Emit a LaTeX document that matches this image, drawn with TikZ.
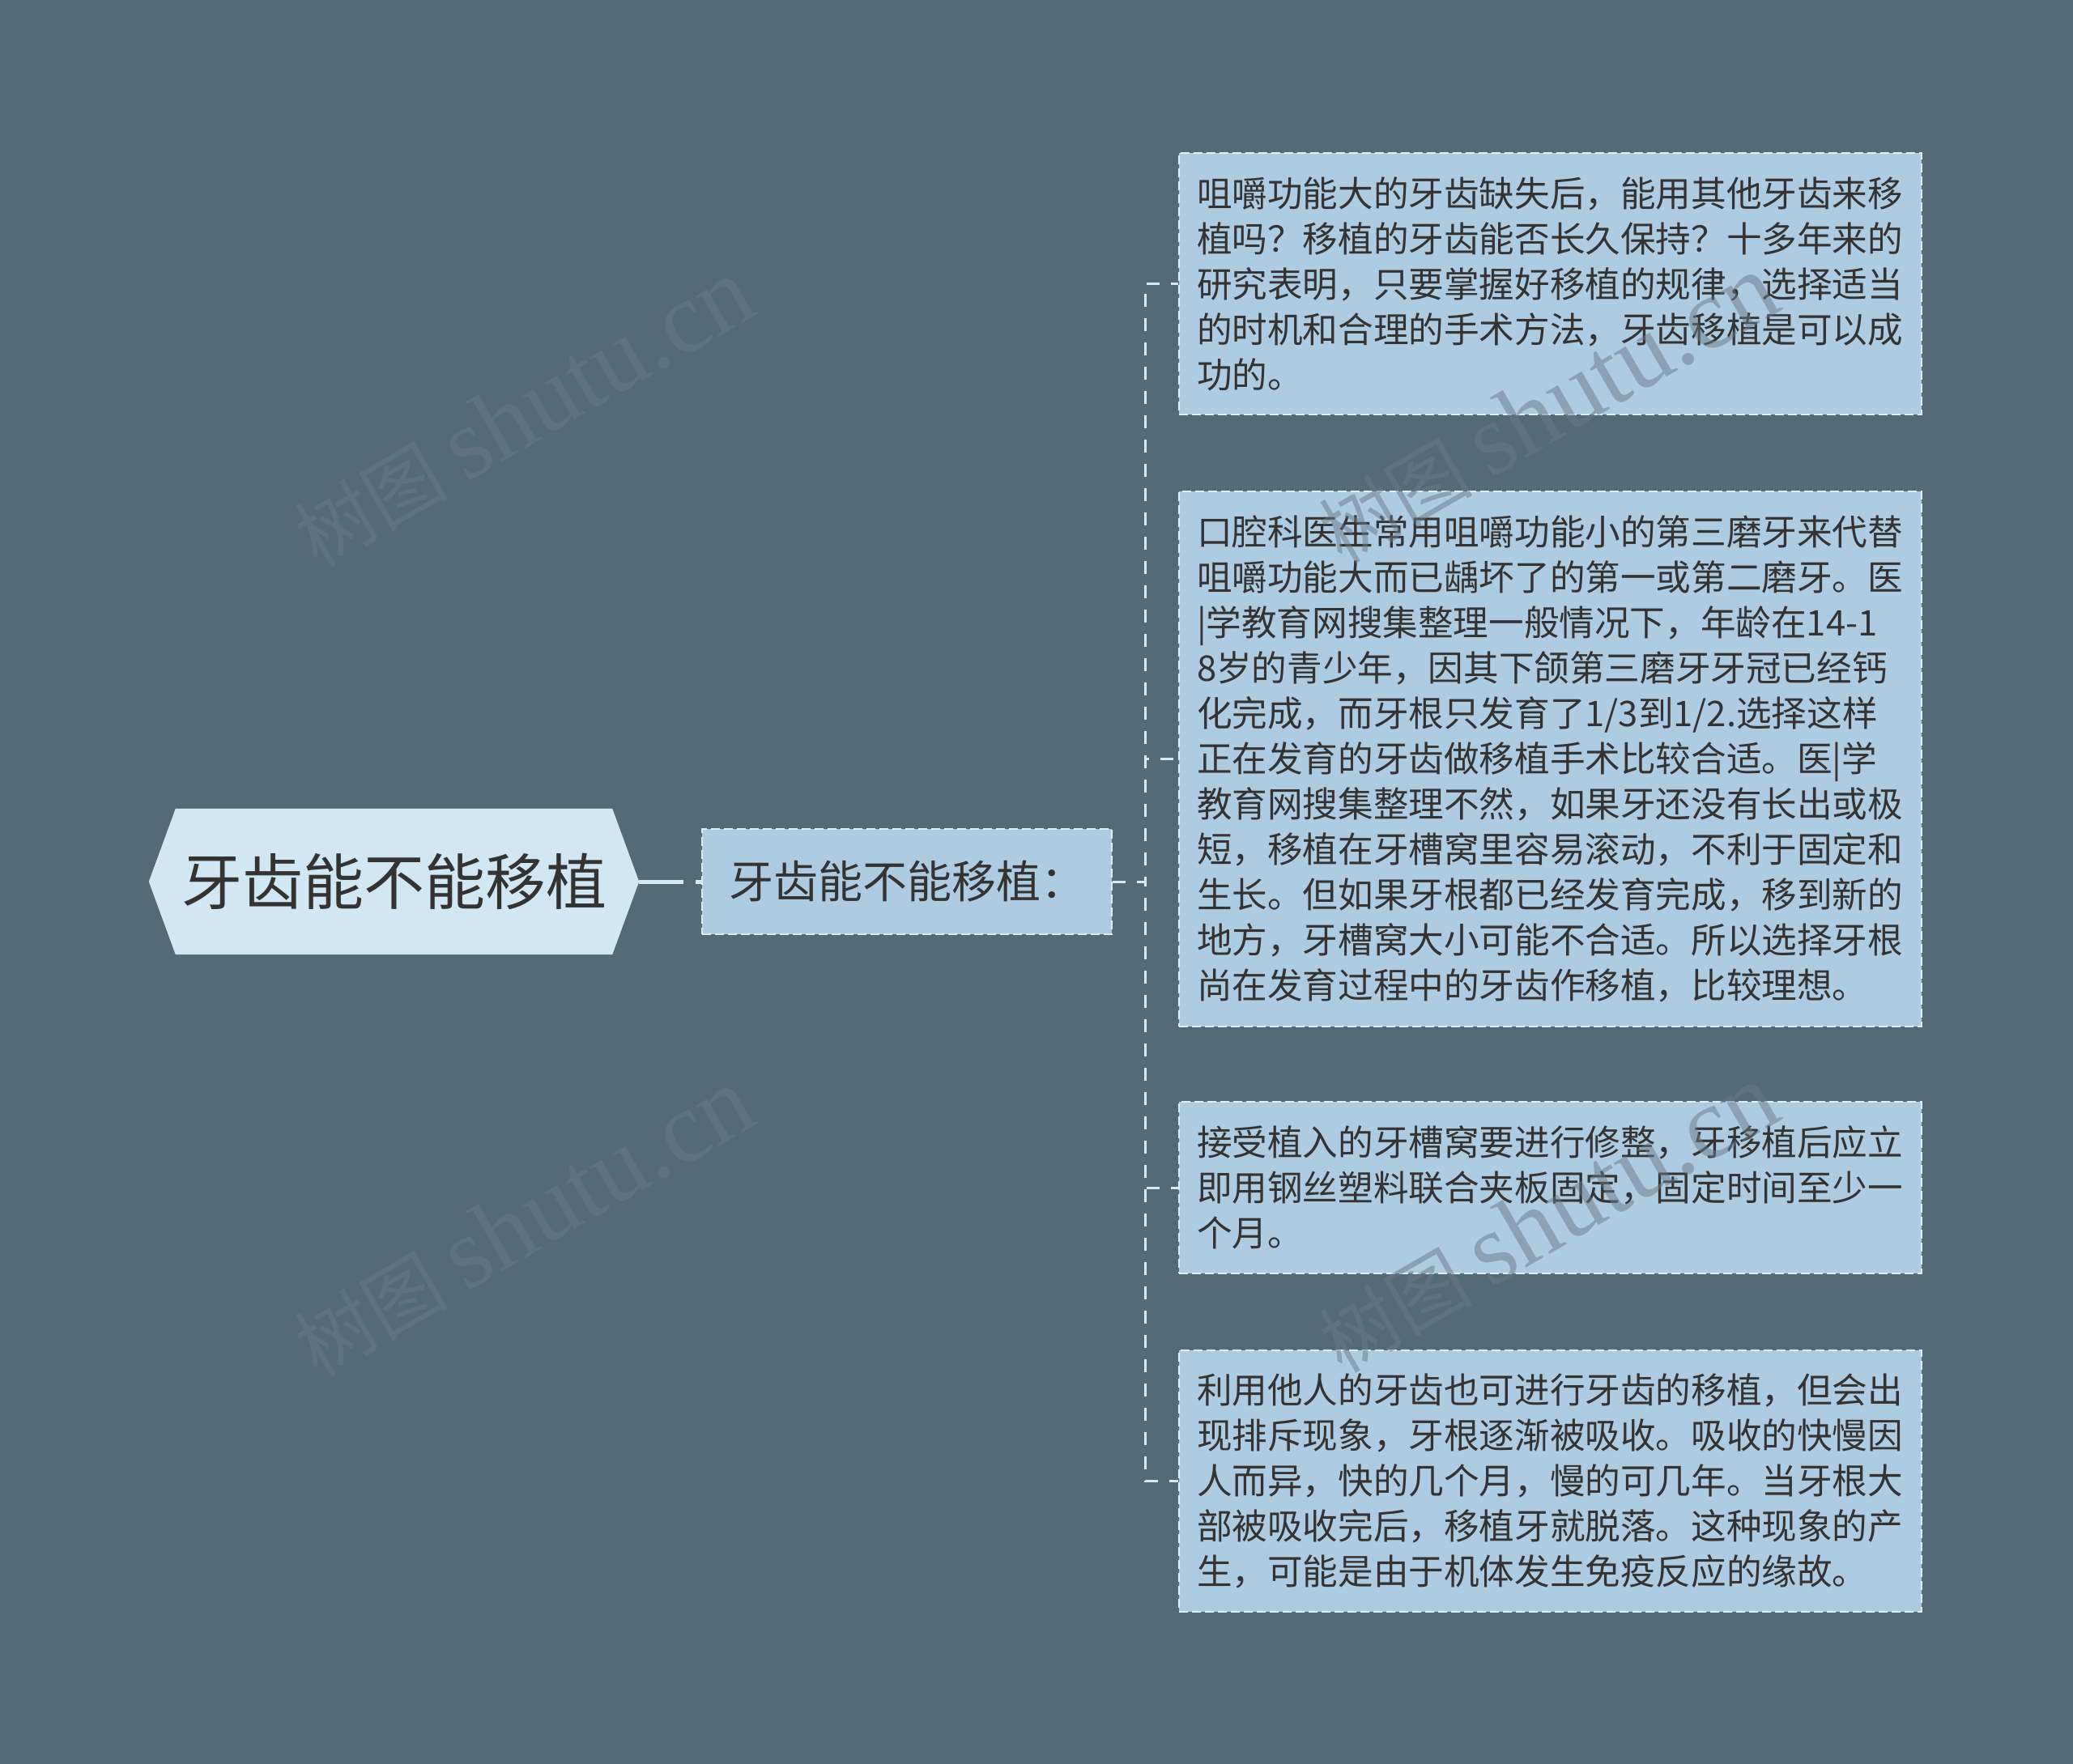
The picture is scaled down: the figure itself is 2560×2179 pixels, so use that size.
\documentclass[tikz,border=0pt]{standalone}
\usepackage{fontspec}
\setmainfont{Noto Sans CJK SC}
\newfontfamily\wmserif{Liberation Serif}
\usetikzlibrary{backgrounds}
\pgfdeclarelayer{canvas}
\pgfsetlayers{canvas,background,main}
\definecolor{bgc}{HTML}{536A79}
\definecolor{boxc}{HTML}{ADCBE1}
\definecolor{rootc}{HTML}{D1E8F4}
\definecolor{txtc}{HTML}{333333}
\definecolor{dashc}{HTML}{DDEEF8}
\definecolor{linec}{HTML}{D6EAF5}
\definecolor{wmc}{HTML}{6B7B89}
\tikzset{
  roottext/.style={minimum width=605pt, minimum height=180pt, inner sep=0pt,
    text=txtc, font=\fontsize{75}{90}\selectfont},
  subbox/.style={draw=dashc, line width=2pt, dash pattern=on 11pt off 5pt,
    fill=boxc, minimum width=506pt, minimum height=130pt, inner sep=0pt,
    text=txtc, font=\fontsize{55}{66}\selectfont},
  leafbox/.style={draw=dashc, line width=2pt, dash pattern=on 11pt off 5pt,
    fill=boxc, anchor=north west, text width=873pt, inner xsep=22pt, inner ysep=0pt,
    align=left, text=txtc, font=\fontsize{43.6}{56}\selectfont},
  rootline/.style={draw=linec, line width=5pt, dash pattern=on 55pt off 15pt},
  branchline/.style={draw=linec, line width=3pt, dash pattern=on 16pt off 14pt},
  wmark/.style={text=wmc, opacity=0.5, rotate=30, inner sep=0pt,
    font=\fontsize{95}{95}\selectfont}
}
\begin{document}
\begin{tikzpicture}[x=1pt,y=-1pt]
\useasboundingbox (0,0) rectangle (2560,2179);
\begin{pgfonlayer}{canvas}
\fill[bgc] (0,0) rectangle (2560,2179);
\end{pgfonlayer}

% root
\node[roottext] (root) at (486.5,1089) {牙齿能不能移植};
\begin{pgfonlayer}{background}
\fill[rootc] (root.west) -- ([xshift=33pt]root.north west) -- ([xshift=-33pt]root.north east)
  -- (root.east) -- ([xshift=-33pt]root.south east) -- ([xshift=33pt]root.south west) -- cycle;
\end{pgfonlayer}

% sub node
\node[subbox] (sub) at (1120,1089) {牙齿能不能移植：};

% leaves
\node[leafbox, minimum height=323pt] (l1) at (1455,188) {咀嚼功能大的牙齿缺失后，能用其他牙齿来移\\植吗？移植的牙齿能否长久保持？十多年来的\\研究表明，只要掌握好移植的规律，选择适当\\的时机和合理的手术方法，牙齿移植是可以成\\功的。};
\node[leafbox, minimum height=661pt] (l2) at (1455,606) {口腔科医生常用咀嚼功能小的第三磨牙来代替\\咀嚼功能大而已龋坏了的第一或第二磨牙。医\\|学教育网搜集整理一般情况下，年龄在14-1\\8岁的青少年，因其下颌第三磨牙牙冠已经钙\\化完成，而牙根只发育了1/3到1/2.选择这样\\正在发育的牙齿做移植手术比较合适。医|学\\教育网搜集整理不然，如果牙还没有长出或极\\短，移植在牙槽窝里容易滚动，不利于固定和\\生长。但如果牙根都已经发育完成，移到新的\\地方，牙槽窝大小可能不合适。所以选择牙根\\尚在发育过程中的牙齿作移植，比较理想。};
\node[leafbox, minimum height=212pt] (l3) at (1455,1360) {接受植入的牙槽窝要进行修整，牙移植后应立\\即用钢丝塑料联合夹板固定，固定时间至少一\\个月。};
\node[leafbox, minimum height=323pt] (l4) at (1455,1667) {利用他人的牙齿也可进行牙齿的移植，但会出\\现排斥现象，牙根逐渐被吸收。吸收的快慢因\\人而异，快的几个月，慢的可几年。当牙根大\\部被吸收完后，移植牙就脱落。这种现象的产\\生，可能是由于机体发生免疫反应的缘故。};

% connectors
\draw[rootline] (root.east) -- (sub.west);
\coordinate (spine) at (1414,1089);
\foreach \n in {l1,l2,l3,l4}
  \draw[branchline] (sub.east) -- (spine) |- (\n.west);

% watermarks
\node[wmark] (wm1) at (646,510) {树图 {\wmserif\fontsize{125}{125}\selectfont shutu.cn}};
\node[wmark] (wm2) at (646,1510) {树图 {\wmserif\fontsize{125}{125}\selectfont shutu.cn}};
\node[wmark] (wm3) at (1911,505) {树图 {\wmserif\fontsize{125}{125}\selectfont shutu.cn}};
\node[wmark] (wm4) at (1911,1505) {树图 {\wmserif\fontsize{125}{125}\selectfont shutu.cn}};
\end{tikzpicture}
\end{document}
